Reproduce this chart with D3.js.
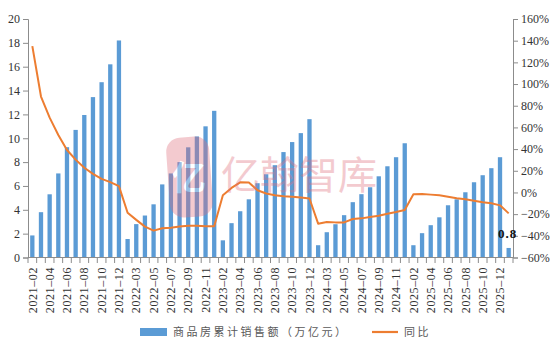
<!DOCTYPE html>
<html>
<head>
<meta charset="utf-8">
<script src="https://cdn.jsdelivr.net/npm/d3@7"></script>
<style>
  body { margin: 0; background: #fff; }
  svg { display: block; }
</style>
</head>
<body>
<script>
// months (Jan is merged into Feb in the source data)
var months = [
  "2021-02","2021-03","2021-04","2021-05","2021-06","2021-07","2021-08","2021-09","2021-10","2021-11","2021-12",
  "2022-02","2022-03","2022-04","2022-05","2022-06","2022-07","2022-08","2022-09","2022-10","2022-11","2022-12",
  "2023-02","2023-03","2023-04","2023-05","2023-06","2023-07","2023-08","2023-09","2023-10","2023-11","2023-12",
  "2024-02","2024-03","2024-04","2024-05","2024-06","2024-07","2024-08","2024-09","2024-10","2024-11","2024-12",
  "2025-02","2025-03","2025-04","2025-05","2025-06","2025-07","2025-08","2025-09","2025-10","2025-11","2025-12",
  "2026-02"
];

// 商品房累计销售额（万亿元）
var sales = [
  1.85, 3.8, 5.3, 7.05, 9.25, 10.7, 11.95, 13.45, 14.7, 16.2, 18.2,
  1.55, 2.8, 3.52, 4.46, 6.13, 7.05, 8.0, 9.24, 10.15, 11.0, 12.3,
  1.44, 2.88, 3.88, 4.88, 6.23, 6.98, 7.74, 8.84, 9.68, 10.43, 11.6,
  1.03, 2.12, 2.79, 3.55, 4.64, 5.31, 5.89, 6.81, 7.65, 8.41, 9.58,
  1.03, 2.04, 2.71, 3.37, 4.38, 4.88, 5.47, 6.31, 6.9, 7.49, 8.41,
  0.8
];

// 同比 (%)
var yoy = [
  135, 88.5, 69, 53, 39.2, 30.3, 22.8, 17.2, 12.5, 9.5, 5.8,
  -18.7, -25.3, -31.5, -35.2, -33, -32.5, -31.5, -30.7, -30.7, -31.2, -31.2,
  -2.5, 4.2, 9.3, 9.1, 2, -1, -2.5, -3.4, -4, -4.6, -5.6,
  -28.8, -27.2, -27.6, -27.6, -24.5, -23.9, -22.7, -21.5, -19.6, -18, -16.2,
  -1.7, -1.4, -2, -2.6, -3.9, -5.4, -6.3, -7.6, -9.1, -10, -11.9,
  -19.3
];

var leftTicks = [0, 2, 4, 6, 8, 10, 12, 14, 16, 18, 20];
var rightTicks = [-60, -40, -20, 0, 20, 40, 60, 80, 100, 120, 140, 160];

var barName = "商品房累计销售额（万亿元）";
var lineName = "同比";

var width = 554, height = 352;
var plotLeft = 28, plotRight = 513, plotTop = 19, plotBottom = 257.5;
var numFont = "'Liberation Serif', 'Times New Roman', serif";
var cjkFont = "'Noto Sans CJK SC', sans-serif";
var axisColor = "#8c8c8c";

var svg = d3.select("body").append("svg")
  .attr("width", width)
  .attr("height", height);

var xStep = d3.scaleBand().domain(months).range([plotLeft, plotRight]);
var barW = 4.3;

var y = d3.scaleLinear().domain([0, 20]).range([plotBottom, plotTop]);
var y2 = d3.scaleLinear().domain([-60, 160]).range([plotBottom, plotTop]);

// bars
svg.append("g").selectAll("rect")
  .data(sales)
  .enter().append("rect")
  .attr("x", function (d, i) { return xStep(months[i]) + (xStep.bandwidth() - barW) / 2; })
  .attr("width", barW)
  .attr("y", function (d) { return y(d); })
  .attr("height", function (d) { return plotBottom - y(d); })
  .attr("fill", "#5b9bd5");

// line
var line = d3.line()
  .x(function (d, i) { return xStep(months[i]) + xStep.bandwidth() / 2; })
  .y(function (d) { return y2(d); });

svg.append("path")
  .datum(yoy)
  .attr("d", line)
  .attr("fill", "none")
  .attr("stroke", "#ed7d31")
  .attr("stroke-width", 2)
  .attr("stroke-linejoin", "round");

// watermark
var wm = svg.append("g").attr("opacity", 0.36);
wm.append("rect")
  .attr("x", 168).attr("y", 137)
  .attr("width", 43).attr("height", 80)
  .attr("rx", 14)
  .attr("fill", "#e06e7d")
  .attr("transform", "rotate(-4 190 177)");
wm.append("text")
  .attr("x", 189).attr("y", 190)
  .attr("text-anchor", "middle")
  .attr("font-family", cjkFont)
  .attr("font-size", 34)
  .attr("font-weight", "bold")
  .attr("fill", "#fff")
  .text("亿");
wm.append("text")
  .attr("x", 221).attr("y", 189)
  .attr("font-family", cjkFont)
  .attr("font-size", 39)
  .attr("fill", "#e06e7d")
  .text("亿翰智库");

// left axis
var yAxis = d3.axisLeft(y).tickValues(leftTicks).tickSize(5).tickPadding(3);
var gl = svg.append("g").attr("transform", "translate(" + plotLeft + ",0)").call(yAxis);

// right axis
var y2Axis = d3.axisRight(y2).tickValues(rightTicks).tickSize(5).tickPadding(3)
  .tickFormat(function (d) { return (d < 0 ? "\u2212" + (-d) : d) + "%"; });
var gr = svg.append("g").attr("transform", "translate(" + plotRight + ",0)").call(y2Axis);

// x axis: ticks at category boundaries, labels every other month
var bounds = months.map(function (m) { return xStep(m); }).concat([plotRight]);
var gx = svg.append("g");
gx.append("line")
  .attr("x1", plotLeft).attr("x2", plotRight)
  .attr("y1", plotBottom).attr("y2", plotBottom)
  .attr("stroke", axisColor);
gx.selectAll(".tk")
  .data(bounds)
  .enter().append("line")
  .attr("class", "tk")
  .attr("x1", function (d) { return d; })
  .attr("x2", function (d) { return d; })
  .attr("y1", plotBottom).attr("y2", plotBottom + 5.5)
  .attr("stroke", axisColor);
gx.selectAll(".lbl")
  .data(months.filter(function (m, i) { return i % 2 === 0; }))
  .enter().append("text")
  .attr("class", "lbl")
  .attr("transform", function (d) {
    return "translate(" + (xStep(d) + xStep.bandwidth() / 2) + ",267) rotate(-90)";
  })
  .attr("text-anchor", "end")
  .attr("dy", "0.35em")
  .attr("font-family", numFont)
  .attr("font-size", 12)
  .attr("letter-spacing", 0.6)
  .attr("fill", "#333")
  .text(function (d) { return d.replace("-", "\u2013"); });

[gl, gr].forEach(function (g) {
  g.select(".domain").attr("stroke", axisColor);
  g.selectAll(".tick line").attr("stroke", axisColor);
  g.selectAll(".tick text")
    .attr("font-family", numFont)
    .attr("font-size", 12)
    .attr("fill", "#333");
});

// data label on the last bar
var last = months.length - 1;
svg.append("text")
  .attr("x", xStep(months[last]) + xStep.bandwidth() / 2 - 1)
  .attr("y", y(sales[last]) - 10)
  .attr("text-anchor", "middle")
  .attr("font-family", numFont)
  .attr("font-size", 13)
  .attr("font-weight", "bold")
  .attr("letter-spacing", 1)
  .attr("fill", "#111")
  .text(sales[last]);

// legend
var lg = svg.append("g");
lg.append("rect")
  .attr("x", 140).attr("y", 328)
  .attr("width", 27).attr("height", 8)
  .attr("fill", "#5b9bd5");
lg.append("text")
  .attr("x", 173).attr("y", 336)
  .attr("font-family", cjkFont)
  .attr("font-size", 11)
  .attr("letter-spacing", 2.5)
  .attr("fill", "#595959")
  .text(barName);
lg.append("line")
  .attr("x1", 372).attr("x2", 398)
  .attr("y1", 332).attr("y2", 332)
  .attr("stroke", "#ed7d31")
  .attr("stroke-width", 2.2);
lg.append("text")
  .attr("x", 404).attr("y", 336)
  .attr("font-family", cjkFont)
  .attr("font-size", 11)
  .attr("letter-spacing", 2.5)
  .attr("fill", "#595959")
  .text(lineName);
</script>
</body>
</html>
